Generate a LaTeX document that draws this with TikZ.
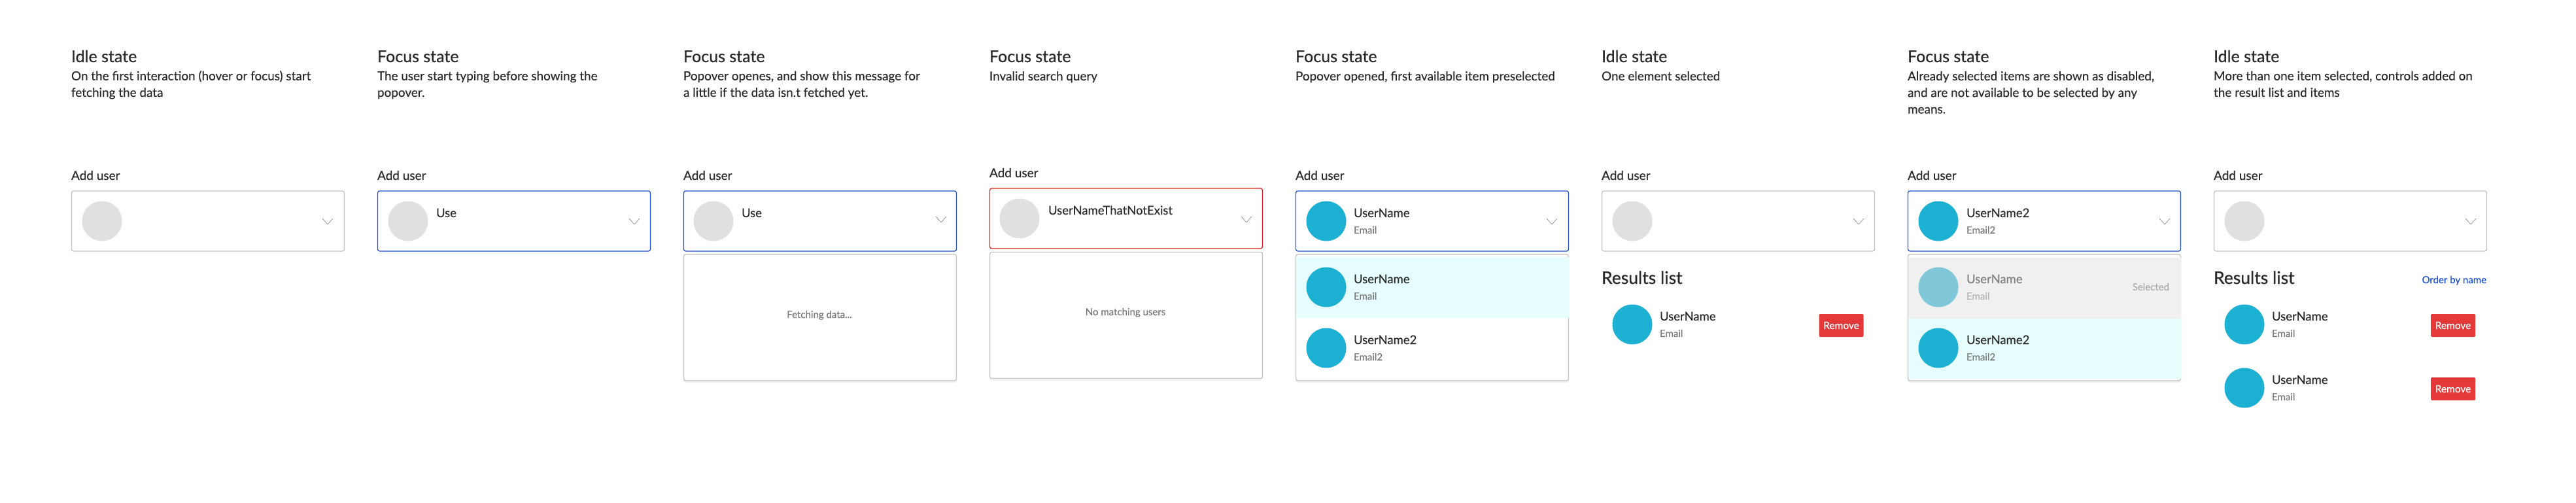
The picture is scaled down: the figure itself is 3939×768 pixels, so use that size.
\documentclass[tikz,border=0pt]{standalone}
\usepackage{fontspec}
\setmainfont[FakeBold=0.3]{Lato}
\newfontfamily\headfont[FakeBold=0.7]{Lato}
\usetikzlibrary{shadows}
\definecolor{inktext}{HTML}{2A2A2A}
\definecolor{mutedtext}{HTML}{777777}
\definecolor{focusblue}{HTML}{1A4FD8}
\definecolor{errorred}{HTML}{DD2222}
\definecolor{lineGray}{HTML}{C2C2C2}
\definecolor{avatarGray}{HTML}{E0E0E0}
\definecolor{avatarTeal}{HTML}{1CB0D2}
\definecolor{avatarFaded}{HTML}{80C8D9}
\definecolor{hoverRow}{HTML}{E7FEFE}
\definecolor{disabledRow}{HTML}{F0F0F0}
\definecolor{removeRed}{HTML}{E53838}
\tikzset{
    every node/.style={inner sep=0pt, outer sep=0pt, text=inktext},
    titletext/.style={anchor=base west, font=\headfont\fontsize{25}{25}\selectfont},
    bodytext/.style={anchor=base west, align=left, font=\fontsize{18.9}{25.3}\selectfont},
    fieldlabel/.style={anchor=base west, font=\fontsize{19}{19}\selectfont},
    namelabel/.style={anchor=base west, font=\fontsize{18.5}{18.5}\selectfont},
    maillabel/.style={anchor=base west, text=mutedtext, font=\fontsize{15}{15}\selectfont},
    hinttext/.style={anchor=base, text=mutedtext, font=\fontsize{15}{15}\selectfont},
    listtitle/.style={anchor=base west, font=\headfont\fontsize{26.5}{26.5}\selectfont},
    selectbox/.style={draw=lineGray, line width=1.3pt, rounded corners=3pt, minimum width=417pt, minimum height=92pt, anchor=north west},
    popbox/.style={draw=lineGray, line width=1.3pt, fill=white, rounded corners=3pt, minimum width=417pt, minimum height=193pt, anchor=north west, drop shadow={shadow xshift=0pt, shadow yshift=-3pt, opacity=.12}},
    avatar/.style={circle, fill=avatarGray, minimum size=61pt},
    chevron/.style={draw=gray, line width=.6pt},
    removebtn/.style={fill=removeRed, rounded corners=2pt, text=white, minimum width=68pt, minimum height=35pt, font=\fontsize{15.5}{15.5}\selectfont},
}
\begin{document}
\begin{tikzpicture}[x=1pt, y=-1pt]
    \useasboundingbox (0,0) rectangle (3939,768);

    % titles
    \node[titletext] (titleA) at (109,95) {Idle state};
    \node[titletext] (titleB) at (577,95) {Focus state};
    \node[titletext] (titleC) at (1045,95) {Focus state};
    \node[titletext] (titleD) at (1513,95) {Focus state};
    \node[titletext] (titleE) at (1981,95) {Focus state};
    \node[titletext] (titleF) at (2449,95) {Idle state};
    \node[titletext] (titleG) at (2917,95) {Focus state};
    \node[titletext] (titleH) at (3385,95) {Idle state};

    % descriptions
    \node[bodytext] (bodyA) at (109,148) {On the first interaction (hover or focus) start\\fetching the data};
    \node[bodytext] (bodyB) at (577,148) {The user start typing before showing the\\popover.};
    \node[bodytext] (bodyC) at (1045,148) {Popover openes, and show this message for\\a little if the data isn.t fetched yet.};
    \node[bodytext] (bodyD) at (1513,123) {Invalid search query};
    \node[bodytext] (bodyE) at (1981,123) {Popover opened, first available item preselected};
    \node[bodytext] (bodyF) at (2449,123) {One element selected};
    \node[bodytext] (bodyG) at (2917,173.5) {Already selected items are shown as disabled,\\and are not available to be selected by any\\means.};
    \node[bodytext] (bodyH) at (3385,148) {More than one item selected, controls added on\\the result list and items};

    % field labels
    \node[fieldlabel] (labelA) at (109,275) {Add user};
    \node[fieldlabel] (labelB) at (577,275) {Add user};
    \node[fieldlabel] (labelC) at (1045,275) {Add user};
    \node[fieldlabel] (labelD) at (1513,271) {Add user};
    \node[fieldlabel] (labelE) at (1981,275) {Add user};
    \node[fieldlabel] (labelF) at (2449,275) {Add user};
    \node[fieldlabel] (labelG) at (2917,275) {Add user};
    \node[fieldlabel] (labelH) at (3385,275) {Add user};

    % select boxes
    \node[selectbox] (boxA) at (109.5,292) {};
    \node[selectbox, draw=focusblue] (boxB) at (577.5,292) {};
    \node[selectbox, draw=focusblue] (boxC) at (1045.5,292) {};
    \node[selectbox, draw=errorred] (boxD) at (1513.5,288) {};
    \node[selectbox, draw=focusblue] (boxE) at (1981.5,292) {};
    \node[selectbox] (boxF) at (2449.5,292) {};
    \node[selectbox, draw=focusblue] (boxG) at (2917.5,292) {};
    \node[selectbox] (boxH) at (3385.5,292) {};

    % chevrons
    \draw[chevron] (493,334) -- (501,343) -- (509,334);
    \draw[chevron] (962,334) -- (970,343) -- (978,334);
    \draw[chevron] (1431,331) -- (1439,340) -- (1447,331);
    \draw[chevron] (1898,331) -- (1906,340) -- (1914,331);
    \draw[chevron] (2365,334) -- (2373,343) -- (2381,334);
    \draw[chevron] (2834,334) -- (2842,343) -- (2850,334);
    \draw[chevron] (3302,334) -- (3310,343) -- (3318,334);
    \draw[chevron] (3770,334) -- (3778,343) -- (3786,334);

    % popovers
    \node[popbox] (popC) at (1045.5,389) {};
    \node[popbox] (popD) at (1513.5,385.5) {};
    \node[popbox] (popE) at (1981.5,389) {};
    \node[popbox] (popG) at (2917.5,389) {};
    \fill[hoverRow] (1982,393) rectangle (2398.5,486);
    \fill[disabledRow] (2918,394) rectangle (3334.5,487);
    \fill[hoverRow] (2918,487) rectangle (3334.5,579);
    \node[hinttext] (fetchHint) at (1253,486) {Fetching data...};
    \node[hinttext] (emptyHint) at (1721,482) {No matching users};

    % avatars in the boxes
    \node[avatar] (avatarA) at (156,338) {};
    \node[avatar] (avatarB) at (624,338) {};
    \node[avatar] (avatarC) at (1091,338) {};
    \node[avatar] (avatarD) at (1559,334) {};
    \node[avatar, fill=avatarTeal] (avatarE) at (2028,338) {};
    \node[avatar] (avatarF) at (2496,338) {};
    \node[avatar, fill=avatarTeal] (avatarG) at (2964,338) {};
    \node[avatar] (avatarH) at (3432,338) {};

    % typed values
    \node[namelabel] (valueB) at (667,332) {Use};
    \node[namelabel] (valueC) at (1134,332) {Use};
    \node[namelabel] (valueD) at (1603,328) {UserNameThatNotExist};
    \node[namelabel] (valueE) at (2070,332) {UserName};
    \node[maillabel] (mailE) at (2070,357) {Email};
    \node[namelabel] (valueG) at (3007,332) {UserName2};
    \node[maillabel] (mailG) at (3007,357) {Email2};

    % popover rows
    \node[avatar, fill=avatarTeal] (rowEa) at (2028,439) {};
    \node[namelabel] (nameEa) at (2070,433) {UserName};
    \node[maillabel] (mailEa) at (2070,458) {Email};
    \node[avatar, fill=avatarTeal] (rowEb) at (2028,532) {};
    \node[namelabel] (nameEb) at (2070,526) {UserName2};
    \node[maillabel] (mailEb) at (2070,551) {Email2};

    \node[avatar, fill=avatarFaded] (rowGa) at (2964,439) {};
    \node[namelabel, text=gray] (nameGa) at (3007,433) {UserName};
    \node[maillabel, text=lightgray!80!gray] (mailGa) at (3007,458) {Email};
    \node[maillabel, anchor=base east, text=lightgray!70!gray] (selectedGa) at (3317,444) {Selected};
    \node[avatar, fill=avatarTeal] (rowGb) at (2964,532) {};
    \node[namelabel] (nameGb) at (3007,526) {UserName2};
    \node[maillabel] (mailGb) at (3007,551) {Email2};

    % results lists
    \node[listtitle] (resultsF) at (2449,434) {Results list};
    \node[avatar, fill=avatarTeal] (resultF) at (2496,496) {};
    \node[namelabel] (resultNameF) at (2538,490) {UserName};
    \node[maillabel] (resultMailF) at (2538,515) {Email};
    \node[removebtn] (removeF) at (2815.5,497.5) {Remove};

    \node[listtitle] (resultsH) at (3385,434) {Results list};
    \node[maillabel, anchor=base east, text=focusblue] (orderH) at (3802,433) {Order by name};
    \node[avatar, fill=avatarTeal] (resultHa) at (3432,496) {};
    \node[namelabel] (resultNameHa) at (3474,490) {UserName};
    \node[maillabel] (resultMailHa) at (3474,515) {Email};
    \node[removebtn] (removeHa) at (3751,497.5) {Remove};
    \node[avatar, fill=avatarTeal] (resultHb) at (3432,593) {};
    \node[namelabel] (resultNameHb) at (3474,587) {UserName};
    \node[maillabel] (resultMailHb) at (3474,612) {Email};
    \node[removebtn] (removeHb) at (3751,594.5) {Remove};
\end{tikzpicture}
\end{document}
